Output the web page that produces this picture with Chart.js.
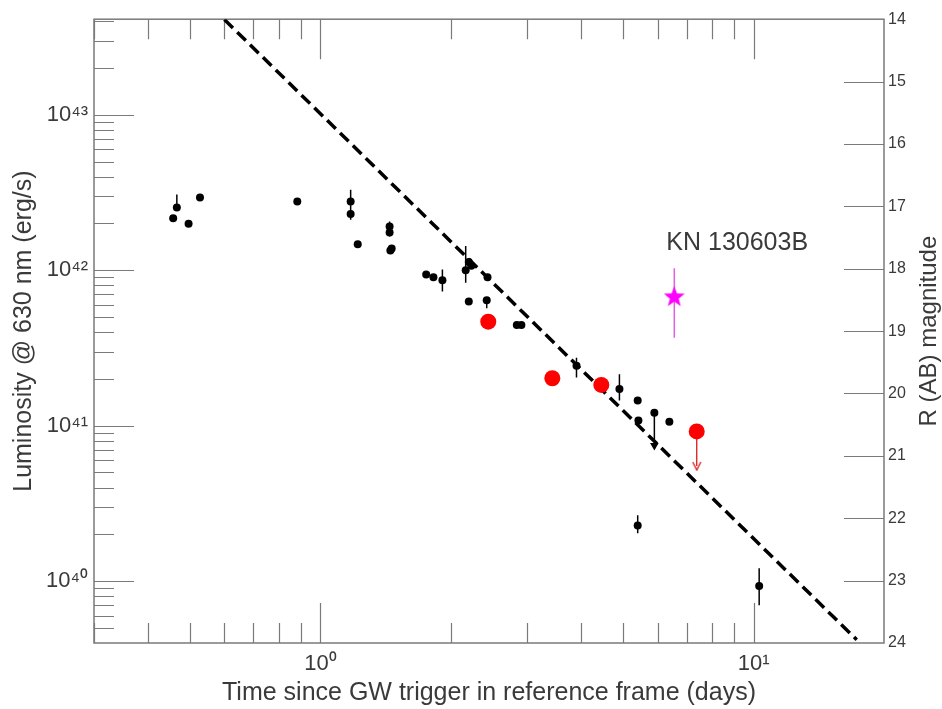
<!DOCTYPE html>
<html>
<head>
<meta charset="utf-8">
<script src="https://cdn.jsdelivr.net/npm/chart.js@4.4.0/dist/chart.umd.min.js"></script>
<style>
  html, body { margin: 0; padding: 0; background: #fff; }
  #wrap { width: 942px; height: 709px; }
</style>
</head>
<body>
<div id="wrap"><canvas id="lum"></canvas></div>
<script>
// black points: time since trigger (days) and luminosity (erg/s)
const blackT = [0.457, 0.466, 0.496, 0.527, 0.884, 1.174, 1.174, 1.219, 1.444, 1.444, 1.45, 1.46,
  1.754, 1.823, 1.912, 2.164, 2.20, 2.23, 2.20, 2.42, 2.43, 2.84, 2.91, 3.90, 4.90, 5.40, 5.42,
  5.40, 5.90, 6.39, 10.3];
const blackL = [2.16e42, 2.53e42, 1.99e42, 2.94e42, 2.77e42, 2.77e42, 2.30e42, 1.47e42, 1.91e42, 1.75e42, 1.34e42, 1.38e42,
  9.38e41, 9.02e41, 8.63e41, 1.0e42, 1.13e42, 1.07e42, 6.3e41, 6.4e41, 9.02e41, 4.44e41, 4.44e41, 2.43e41, 1.72e41, 1.45e41, 1.08e41,
  2.28e40, 1.21e41, 1.06e41, 9.3e39];

// vertical error bars on black points
const errT  = [0.466, 1.174, 1.444, 1.912, 2.164, 2.42, 3.90, 4.90, 5.40, 10.3];
const errLo = [2.53e42, 2.11e42, 1.65e42, 7.3e41, 8.3e41, 5.7e41, 2.04e41, 1.45e41, 2.03e40, 7.0e39];
const errHi = [3.07e42, 3.29e42, 2.06e42, 1.01e42, 1.43e42, 6.4e41, 2.74e41, 2.14e41, 2.65e40, 1.21e40];
// horizontal error bar
const hbarT0 = [2.80];
const hbarT1 = [2.95];
const hbarL  = [4.44e41];

// black upper limit (arrow)
const limT    = [5.90];
const limFrom = [1.21e41];
const limTo   = [7.45e40];

// red points
const redT = [2.44, 3.43, 4.45, 7.39];
const redL = [4.67e41, 2.02e41, 1.83e41, 9.19e40];
const redLimT    = [7.39];
const redLimFrom = [9.19e40];
const redLimTo   = [5.5e40];

// KN 130603B
const starT  = [6.56];
const starL  = [6.81e41];
const starLo = [3.68e41];
const starHi = [1.03e42];

// dashed power law
const lineT = [0.6, 17.3];
const lineL = [4.1e43, 4.2e39];

// axes
const lumTicks  = [1e40, 1e41, 1e42, 1e43];
const timeTicks = [1, 10];
const lumMin = 4.0e39, lumMax = 4.12e43;
const timeMin = 0.3, timeMax = 20;
const magMin = 14, magMax = 24;

const sup = '⁰¹²³⁴⁵⁶⁷⁸⁹';
function powLabel(v) {
  const e = Math.round(Math.log10(v));
  return '10' + String(e).split('').map(c => sup[+c]).join('');
}

function pts(ts, ls) { return ts.map((t, i) => ({x: t, y: ls[i]})); }
function vbars(ts, lo, hi) {
  return ts.flatMap((t, i) => [{x: t, y: lo[i]}, {x: t, y: hi[i]}, {x: t, y: null}]);
}

function starImage(r, color) {
  const c = document.createElement('canvas');
  c.width = c.height = 2 * r;
  const g = c.getContext('2d');
  g.fillStyle = color;
  g.beginPath();
  for (let i = 0; i < 10; i++) {
    const rad = i % 2 ? r * 0.42 : r;
    const ang = -Math.PI / 2 + i * Math.PI / 5;
    g.lineTo(r + rad * Math.cos(ang), r + 1 + rad * Math.sin(ang));
  }
  g.closePath();
  g.fill();
  return c;
}

function vHead(color) {
  const c = document.createElement('canvas');
  c.width = 10; c.height = 10;
  const g = c.getContext('2d');
  g.strokeStyle = color;
  g.lineWidth = 1.4;
  g.beginPath();
  g.moveTo(1, 1); g.lineTo(5, 9); g.lineTo(9, 1);
  g.stroke();
  return c;
}

Chart.defaults.font.family = '"Liberation Sans", Arial, sans-serif';
Chart.defaults.color = '#3a3a3a';

const axisGrey = '#7a7a7a';

const frameTicks = {
  id: 'frameTicks',
  beforeDatasetsDraw(chart) {
    const {ctx, chartArea: a, scales} = chart;
    const x = scales.x, yl = scales.y, yr = scales.mag;
    ctx.save();
    ctx.strokeStyle = axisGrey;
    ctx.lineWidth = 1.5;
    ctx.strokeRect(a.left, a.top, a.right - a.left, a.bottom - a.top);
    ctx.lineWidth = 1.2;
    ctx.beginPath();
    for (let d = 39; d <= 43; d++) {
      for (let m = 1; m <= 9; m++) {
        const v = m * Math.pow(10, d);
        if (v <= lumMin || v >= lumMax) continue;
        const py = Math.round(yl.getPixelForValue(v)) + 0.5;
        ctx.moveTo(a.left, py);
        ctx.lineTo(a.left + (m === 1 ? 40 : 20), py);
      }
    }
    for (let d = -1; d <= 1; d++) {
      for (let m = 1; m <= 9; m++) {
        const v = m * Math.pow(10, d);
        if (v <= timeMin || v >= timeMax) continue;
        const px = Math.round(x.getPixelForValue(v)) + 0.5;
        const len = m === 1 ? 40 : 20;
        ctx.moveTo(px, a.bottom); ctx.lineTo(px, a.bottom - len);
        ctx.moveTo(px, a.top); ctx.lineTo(px, a.top + len);
      }
    }
    for (let m = magMin + 1; m < magMax; m++) {
      const py = Math.round(yr.getPixelForValue(m)) + 0.5;
      ctx.moveTo(a.right, py);
      ctx.lineTo(a.right - 40, py);
    }
    ctx.stroke();
    ctx.restore();
  },
  afterDraw(chart) {
    const {ctx, chartArea: a, scales} = chart;
    ctx.save();
    ctx.fillStyle = '#3a3a3a';
    ctx.font = '25px "Liberation Sans", Arial, sans-serif';
    // KN label, placed next to the star
    const sx = scales.x.getPixelForValue(starT[0]);
    const sy = scales.y.getPixelForValue(starL[0]);
    ctx.textAlign = 'left';
    ctx.textBaseline = 'middle';
    ctx.fillText('KN 130603B', sx - 8, sy - 53);
    // right axis title, reading upwards
    ctx.font = '24px "Liberation Sans", Arial, sans-serif';
    ctx.translate(929, (a.top + a.bottom) / 2);
    ctx.rotate(-Math.PI / 2);
    ctx.textAlign = 'center';
    ctx.fillText('R (AB) magnitude', 0, 0);
    ctx.restore();
  }
};

new Chart(document.getElementById('lum'), {
  type: 'scatter',
  data: {
    datasets: [
      {
        label: 'KN 130603B',
        data: pts(starT, starL),
        pointStyle: starImage(11, '#ff00ff'),
        pointRadius: 11
      },
      {
        label: 'red limit head',
        data: pts(redLimT, redLimTo),
        pointStyle: vHead('#e02828'),
        pointRadius: 5
      },
      {
        label: 'red',
        data: pts(redT, redL),
        backgroundColor: '#ff0000',
        borderWidth: 0,
        pointRadius: 8
      },
      {
        label: 'black',
        data: pts(blackT, blackL),
        backgroundColor: '#000',
        borderWidth: 0,
        pointRadius: 4
      },
      {
        label: 'black limit head',
        data: pts(limT, limTo),
        pointStyle: 'triangle',
        rotation: 180,
        backgroundColor: '#000',
        borderWidth: 0,
        pointRadius: 5
      },
      {
        label: 'star err',
        data: vbars(starT, starLo, starHi),
        showLine: true,
        spanGaps: false,
        borderColor: '#e060e0',
        borderWidth: 1.5,
        pointRadius: 0
      },
      {
        label: 'red limit',
        data: vbars(redLimT, redLimTo, redLimFrom),
        showLine: true,
        spanGaps: false,
        borderColor: '#e02828',
        borderWidth: 1.4,
        pointRadius: 0
      },
      {
        label: 'err',
        data: vbars(errT, errLo, errHi)
          .concat(vbars(limT, limTo, limFrom))
          .concat(hbarT0.flatMap((t, i) => [{x: t, y: hbarL[i]}, {x: hbarT1[i], y: hbarL[i]}, {x: hbarT1[i], y: null}])),
        showLine: true,
        spanGaps: false,
        borderColor: '#000',
        borderWidth: 1.5,
        pointRadius: 0
      },
      {
        label: 'power law',
        data: pts(lineT, lineL),
        showLine: true,
        borderColor: '#000',
        borderWidth: 3.5,
        borderDash: [12, 6],
        pointRadius: 0
      }
    ]
  },
  options: {
    responsive: true,
    maintainAspectRatio: false,
    animation: false,
    devicePixelRatio: 1,
    layout: { padding: { top: 17, left: 0, right: 0, bottom: 0 } },
    plugins: {
      legend: { display: false },
      tooltip: { enabled: false }
    },
    scales: {
      x: {
        type: 'logarithmic',
        min: timeMin,
        max: timeMax,
        grid: { display: false, drawTicks: false },
        border: { display: false },
        afterBuildTicks: s => { s.ticks = timeTicks.map(v => ({value: v})); },
        afterFit: s => { s.height = 66; },
        ticks: {
          callback: v => powLabel(v),
          font: { size: 22 },
          padding: 8,
          maxRotation: 0
        },
        title: {
          display: true,
          text: 'Time since GW trigger in reference frame (days)',
          font: { size: 25 },
          padding: { top: 0, bottom: 1 }
        }
      },
      y: {
        type: 'logarithmic',
        position: 'left',
        min: lumMin,
        max: lumMax,
        grid: { display: false, drawTicks: false },
        border: { display: false },
        afterBuildTicks: s => { s.ticks = lumTicks.map(v => ({value: v})); },
        afterFit: s => { s.width = 94; },
        ticks: {
          callback: v => powLabel(v),
          font: { size: 22 },
          padding: 6
        },
        title: {
          display: true,
          text: 'Luminosity @ 630 nm (erg/s)',
          font: { size: 25 },
          padding: { top: 9, bottom: 0 }
        }
      },
      mag: {
        type: 'linear',
        position: 'right',
        reverse: true,
        min: magMin,
        max: magMax,
        grid: { display: false, drawTicks: false },
        border: { display: false },
        afterFit: s => { s.width = 58; },
        ticks: {
          stepSize: 1,
          font: { size: 16 },
          padding: 4
        }
      }
    }
  },
  plugins: [frameTicks]
});
</script>
</body>
</html>
